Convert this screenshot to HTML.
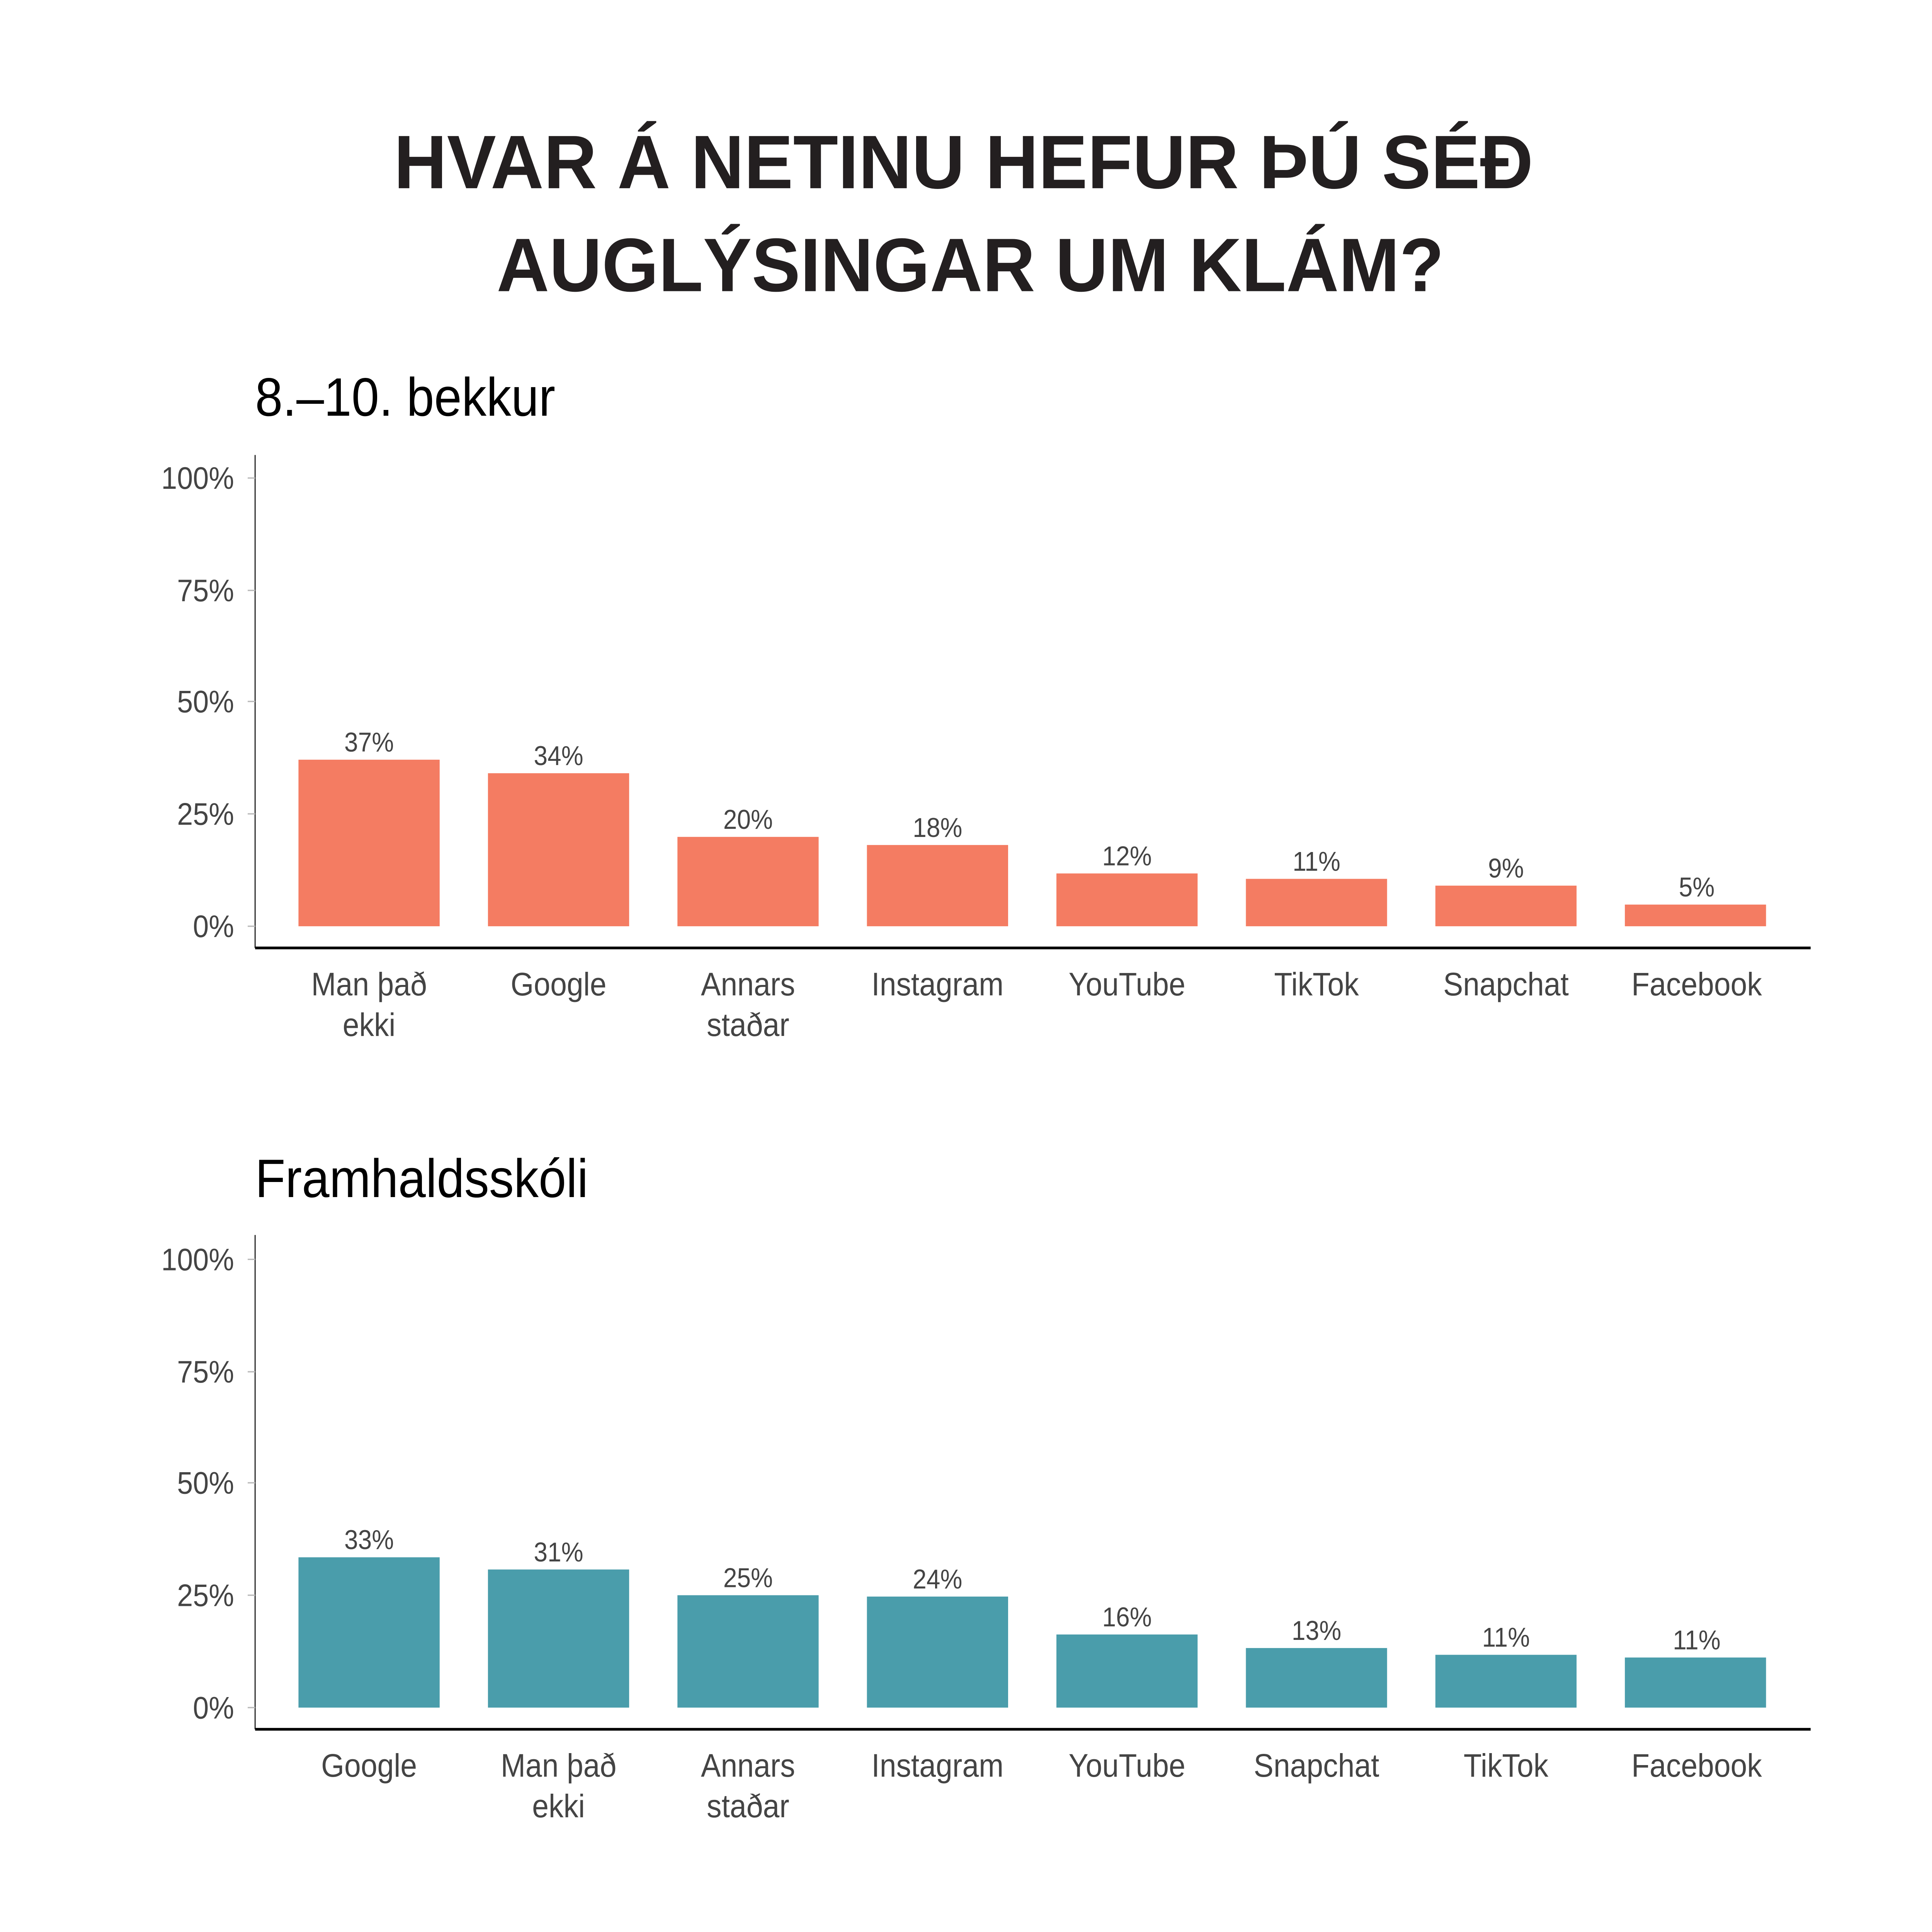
<!DOCTYPE html>
<html><head><meta charset="utf-8"><style>html,body{margin:0;padding:0;background:#fff;overflow:hidden;width:100%;height:100%}svg{display:block;width:100vw;height:100vh}</style></head>
<body>
<svg xmlns="http://www.w3.org/2000/svg" viewBox="0 0 1560 1426.7" preserveAspectRatio="none" font-family="Liberation Sans, sans-serif">
<rect width="1560" height="1427" fill="#fff"/>
<g fill="#231f20" font-weight="bold" font-size="56" text-anchor="start">
<text x="318" y="139" textLength="920" lengthAdjust="spacingAndGlyphs">HVAR Á NETINU HEFUR ÞÚ SÉÐ</text>
<text x="401" y="215" textLength="765" lengthAdjust="spacingAndGlyphs">AUGLÝSINGAR UM KLÁM?</text>
</g>
<g fill="#000" font-size="40">
<text x="206" y="307">8.–10. bekkur</text>
<text x="206" y="884">Framhaldsskóli</text>
</g>

<g>
<line x1="206" y1="336" x2="206" y2="700" stroke="#333" stroke-width="1"/>
<line x1="206" y1="700" x2="1462" y2="700" stroke="#000" stroke-width="2"/>
<g stroke="#bbb" stroke-width="1"><line x1="200" y1="684" x2="206" y2="684"/><line x1="200" y1="601" x2="206" y2="601"/><line x1="200" y1="518" x2="206" y2="518"/><line x1="200" y1="436" x2="206" y2="436"/><line x1="200" y1="353" x2="206" y2="353"/></g>
<g fill="#444" font-size="23" text-anchor="end">
<text x="189" y="692">0%</text><text x="189" y="609">25%</text><text x="189" y="526">50%</text><text x="189" y="444">75%</text><text x="189" y="361">100%</text>
</g>
<g fill="#F47C62">
<rect x="241" y="561" width="114" height="123"/>
<rect x="394" y="571" width="114" height="113"/>
<rect x="547" y="618" width="114" height="66"/>
<rect x="700" y="624" width="114" height="60"/>
<rect x="853" y="645" width="114" height="39"/>
<rect x="1006" y="649" width="114" height="35"/>
<rect x="1159" y="654" width="114" height="30"/>
<rect x="1312" y="668" width="114" height="16"/>
</g>
<g fill="#444" font-size="20" text-anchor="middle">
<text x="298" y="555">37%</text><text x="451" y="565">34%</text><text x="604" y="612">20%</text><text x="757" y="618">18%</text><text x="910" y="639">12%</text><text x="1063" y="643">11%</text><text x="1216" y="648">9%</text><text x="1370" y="662">5%</text>
</g>
<g fill="#444" font-size="24" text-anchor="middle">
<text x="298" y="735">Man það</text><text x="298" y="765">ekki</text>
<text x="451" y="735">Google</text>
<text x="604" y="735">Annars</text><text x="604" y="765">staðar</text>
<text x="757" y="735">Instagram</text>
<text x="910" y="735">YouTube</text>
<text x="1063" y="735">TikTok</text>
<text x="1216" y="735">Snapchat</text>
<text x="1370" y="735">Facebook</text>
</g>
</g>

<g>
<line x1="206" y1="912" x2="206" y2="1277" stroke="#333" stroke-width="1"/>
<line x1="206" y1="1277" x2="1462" y2="1277" stroke="#000" stroke-width="2"/>
<g stroke="#bbb" stroke-width="1"><line x1="200" y1="1261" x2="206" y2="1261"/><line x1="200" y1="1178" x2="206" y2="1178"/><line x1="200" y1="1095" x2="206" y2="1095"/><line x1="200" y1="1013" x2="206" y2="1013"/><line x1="200" y1="930" x2="206" y2="930"/></g>
<g fill="#444" font-size="23" text-anchor="end">
<text x="189" y="1269">0%</text><text x="189" y="1186">25%</text><text x="189" y="1103">50%</text><text x="189" y="1021">75%</text><text x="189" y="938">100%</text>
</g>
<g fill="#4A9DAB">
<rect x="241" y="1150" width="114" height="111"/>
<rect x="394" y="1159" width="114" height="102"/>
<rect x="547" y="1178" width="114" height="83"/>
<rect x="700" y="1179" width="114" height="82"/>
<rect x="853" y="1207" width="114" height="54"/>
<rect x="1006" y="1217" width="114" height="44"/>
<rect x="1159" y="1222" width="114" height="39"/>
<rect x="1312" y="1224" width="114" height="37"/>
</g>
<g fill="#444" font-size="20" text-anchor="middle">
<text x="298" y="1144">33%</text><text x="451" y="1153">31%</text><text x="604" y="1172">25%</text><text x="757" y="1173">24%</text><text x="910" y="1201">16%</text><text x="1063" y="1211">13%</text><text x="1216" y="1216">11%</text><text x="1370" y="1218">11%</text>
</g>
<g fill="#444" font-size="24" text-anchor="middle">
<text x="298" y="1312">Google</text>
<text x="451" y="1312">Man það</text><text x="451" y="1342">ekki</text>
<text x="604" y="1312">Annars</text><text x="604" y="1342">staðar</text>
<text x="757" y="1312">Instagram</text>
<text x="910" y="1312">YouTube</text>
<text x="1063" y="1312">Snapchat</text>
<text x="1216" y="1312">TikTok</text>
<text x="1370" y="1312">Facebook</text>
</g>
</g>
</svg>
</body></html>
